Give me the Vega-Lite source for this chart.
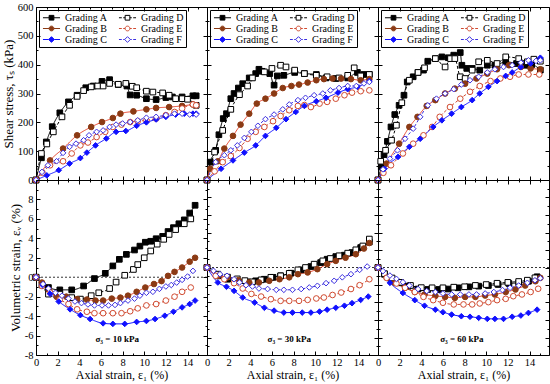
{
"$schema":"https://vega.github.io/schema/vega-lite/v6.json",
"padding":{"left":1,"top":1,"right":4,"bottom":1},
"config":{"view":{"stroke":"black","strokeWidth":1},"font":"Liberation Serif",
"axis":{"domain":false,"grid":false,"tickColor":"black","tickWidth":1,"labelColor":"black","titleColor":"black","labelFont":"Liberation Serif","titleFont":"Liberation Serif","labelFontSize":10.5,"titleFontSize":12,"titleFontWeight":"normal","labelFlush":false,"labelOverlap":false},
"axisX":{"titleFontWeight":"normal"},"axisY":{"titleFontWeight":"normal"},
"legend":{"labelFont":"Liberation Serif"}},
"resolve":{"scale":{"stroke":"independent","fill":"independent","shape":"independent","strokeDash":"independent"},"legend":{"stroke":"independent","fill":"independent","shape":"independent"}},
"datasets":{"d":[
{"p":1,"k":"t","g":"A","x":0,"y":0},{"p":1,"k":"t","g":"A","x":0.5,"y":77},{"p":1,"k":"t","g":"A","x":0.95,"y":132},{"p":1,"k":"t","g":"A","x":1.5,"y":185},{"p":1,"k":"t","g":"A","x":2.2,"y":233},{"p":1,"k":"t","g":"A","x":3,"y":271},{"p":1,"k":"t","g":"A","x":3.8,"y":294},{"p":1,"k":"t","g":"A","x":4.6,"y":320},{"p":1,"k":"t","g":"A","x":5.3,"y":326},{"p":1,"k":"t","g":"A","x":6.1,"y":342},{"p":1,"k":"t","g":"A","x":6.8,"y":348},{"p":1,"k":"t","g":"A","x":7.6,"y":331},{"p":1,"k":"t","g":"A","x":8.4,"y":326},{"p":1,"k":"t","g":"A","x":8.7,"y":295},{"p":1,"k":"t","g":"A","x":9.3,"y":294},{"p":1,"k":"t","g":"A","x":10.2,"y":282},{"p":1,"k":"t","g":"A","x":11.1,"y":279},{"p":1,"k":"t","g":"A","x":12,"y":286},{"p":1,"k":"t","g":"A","x":12.6,"y":288},{"p":1,"k":"t","g":"A","x":13.5,"y":288},{"p":1,"k":"t","g":"A","x":14.5,"y":292},{"p":1,"k":"t","g":"A","x":14.8,"y":292},
{"p":1,"k":"t","g":"D","x":0,"y":0},{"p":1,"k":"t","g":"D","x":0.5,"y":92},{"p":1,"k":"t","g":"D","x":1,"y":125},{"p":1,"k":"t","g":"D","x":1.6,"y":167},{"p":1,"k":"t","g":"D","x":2.4,"y":219},{"p":1,"k":"t","g":"D","x":3.1,"y":259},{"p":1,"k":"t","g":"D","x":3.8,"y":290},{"p":1,"k":"t","g":"D","x":4.4,"y":310},{"p":1,"k":"t","g":"D","x":5.1,"y":323},{"p":1,"k":"t","g":"D","x":5.7,"y":326},{"p":1,"k":"t","g":"D","x":6.2,"y":326},{"p":1,"k":"t","g":"D","x":6.8,"y":335},{"p":1,"k":"t","g":"D","x":7.6,"y":332},{"p":1,"k":"t","g":"D","x":8.3,"y":335},{"p":1,"k":"t","g":"D","x":8.9,"y":325},{"p":1,"k":"t","g":"D","x":9.3,"y":320},{"p":1,"k":"t","g":"D","x":10.2,"y":308},{"p":1,"k":"t","g":"D","x":10.8,"y":305},{"p":1,"k":"t","g":"D","x":11.7,"y":302},{"p":1,"k":"t","g":"D","x":12.3,"y":294},{"p":1,"k":"t","g":"D","x":12.9,"y":282},{"p":1,"k":"t","g":"D","x":13.5,"y":282},{"p":1,"k":"t","g":"D","x":14,"y":280},{"p":1,"k":"t","g":"D","x":14.8,"y":259},
{"p":1,"k":"t","g":"B","x":0,"y":0},{"p":1,"k":"t","g":"B","x":1.3,"y":68},{"p":1,"k":"t","g":"B","x":2.5,"y":109},{"p":1,"k":"t","g":"B","x":3.8,"y":155},{"p":1,"k":"t","g":"B","x":5.1,"y":184},{"p":1,"k":"t","g":"B","x":6.1,"y":201},{"p":1,"k":"t","g":"B","x":7.1,"y":215},{"p":1,"k":"t","g":"B","x":7.8,"y":230},{"p":1,"k":"t","g":"B","x":9,"y":238},{"p":1,"k":"t","g":"B","x":10.2,"y":245},{"p":1,"k":"t","g":"B","x":11.1,"y":250},{"p":1,"k":"t","g":"B","x":12.3,"y":253},{"p":1,"k":"t","g":"B","x":13.5,"y":257},{"p":1,"k":"t","g":"B","x":14.5,"y":262},
{"p":1,"k":"t","g":"E","x":0,"y":0},{"p":1,"k":"t","g":"E","x":0.6,"y":25},{"p":1,"k":"t","g":"E","x":1.3,"y":51},{"p":1,"k":"t","g":"E","x":2.5,"y":65},{"p":1,"k":"t","g":"E","x":3.3,"y":92},{"p":1,"k":"t","g":"E","x":4.1,"y":120},{"p":1,"k":"t","g":"E","x":4.8,"y":130},{"p":1,"k":"t","g":"E","x":5.6,"y":149},{"p":1,"k":"t","g":"E","x":6.4,"y":167},{"p":1,"k":"t","g":"E","x":7.1,"y":184},{"p":1,"k":"t","g":"E","x":7.9,"y":192},{"p":1,"k":"t","g":"E","x":8.7,"y":201},{"p":1,"k":"t","g":"E","x":9.4,"y":204},{"p":1,"k":"t","g":"E","x":10.2,"y":207},{"p":1,"k":"t","g":"E","x":11.1,"y":213},{"p":1,"k":"t","g":"E","x":12,"y":225},{"p":1,"k":"t","g":"E","x":12.8,"y":236},{"p":1,"k":"t","g":"E","x":13.5,"y":248},{"p":1,"k":"t","g":"E","x":14.5,"y":262},{"p":1,"k":"t","g":"E","x":14.8,"y":259},
{"p":1,"k":"t","g":"C","x":0,"y":0},{"p":1,"k":"t","g":"C","x":1,"y":16},{"p":1,"k":"t","g":"C","x":2.1,"y":34},{"p":1,"k":"t","g":"C","x":3.1,"y":57},{"p":1,"k":"t","g":"C","x":4.1,"y":76},{"p":1,"k":"t","g":"C","x":4.7,"y":95},{"p":1,"k":"t","g":"C","x":5.5,"y":120},{"p":1,"k":"t","g":"C","x":6.5,"y":144},{"p":1,"k":"t","g":"C","x":7.4,"y":167},{"p":1,"k":"t","g":"C","x":8.3,"y":170},{"p":1,"k":"t","g":"C","x":9.3,"y":188},{"p":1,"k":"t","g":"C","x":10.2,"y":200},{"p":1,"k":"t","g":"C","x":11.1,"y":210},{"p":1,"k":"t","g":"C","x":12,"y":219},{"p":1,"k":"t","g":"C","x":12.9,"y":227},{"p":1,"k":"t","g":"C","x":13.7,"y":230},{"p":1,"k":"t","g":"C","x":14.5,"y":230},{"p":1,"k":"t","g":"C","x":14.8,"y":230},
{"p":1,"k":"t","g":"F","x":0,"y":0},{"p":1,"k":"t","g":"F","x":0.55,"y":28},{"p":1,"k":"t","g":"F","x":1.1,"y":51},{"p":1,"k":"t","g":"F","x":1.9,"y":65},{"p":1,"k":"t","g":"F","x":2.5,"y":94},{"p":1,"k":"t","g":"F","x":3.1,"y":115},{"p":1,"k":"t","g":"F","x":3.7,"y":126},{"p":1,"k":"t","g":"F","x":4.4,"y":138},{"p":1,"k":"t","g":"F","x":4.9,"y":155},{"p":1,"k":"t","g":"F","x":5.6,"y":167},{"p":1,"k":"t","g":"F","x":6.2,"y":172},{"p":1,"k":"t","g":"F","x":6.8,"y":184},{"p":1,"k":"t","g":"F","x":7.4,"y":192},{"p":1,"k":"t","g":"F","x":8,"y":196},{"p":1,"k":"t","g":"F","x":8.7,"y":201},{"p":1,"k":"t","g":"F","x":9.4,"y":207},{"p":1,"k":"t","g":"F","x":10.2,"y":216},{"p":1,"k":"t","g":"F","x":11.1,"y":219},{"p":1,"k":"t","g":"F","x":12,"y":225},{"p":1,"k":"t","g":"F","x":12.8,"y":230},{"p":1,"k":"t","g":"F","x":13.5,"y":230},{"p":1,"k":"t","g":"F","x":14.2,"y":227},{"p":1,"k":"t","g":"F","x":14.8,"y":227},
{"p":2,"k":"t","g":"A","x":0,"y":0},{"p":2,"k":"t","g":"A","x":0.3,"y":62},{"p":2,"k":"t","g":"A","x":0.8,"y":103},{"p":2,"k":"t","g":"A","x":1.1,"y":157},{"p":2,"k":"t","g":"A","x":1.5,"y":213},{"p":2,"k":"t","g":"A","x":1.8,"y":230},{"p":2,"k":"t","g":"A","x":2.2,"y":282},{"p":2,"k":"t","g":"A","x":2.5,"y":300},{"p":2,"k":"t","g":"A","x":2.9,"y":319},{"p":2,"k":"t","g":"A","x":3.3,"y":334},{"p":2,"k":"t","g":"A","x":3.9,"y":354},{"p":2,"k":"t","g":"A","x":4.5,"y":369},{"p":2,"k":"t","g":"A","x":4.8,"y":384},{"p":2,"k":"t","g":"A","x":5.1,"y":377},{"p":2,"k":"t","g":"A","x":5.8,"y":369},{"p":2,"k":"t","g":"A","x":6.2,"y":329},{"p":2,"k":"t","g":"A","x":6.5,"y":361},{"p":2,"k":"t","g":"A","x":7.1,"y":363},{"p":2,"k":"t","g":"A","x":8.1,"y":373},{"p":2,"k":"t","g":"A","x":9,"y":369},{"p":2,"k":"t","g":"A","x":10.1,"y":366},{"p":2,"k":"t","g":"A","x":11,"y":354},{"p":2,"k":"t","g":"A","x":11.9,"y":352},{"p":2,"k":"t","g":"A","x":13,"y":354},{"p":2,"k":"t","g":"A","x":13.9,"y":373},{"p":2,"k":"t","g":"A","x":14.5,"y":366},{"p":2,"k":"t","g":"A","x":15,"y":366},
{"p":2,"k":"t","g":"D","x":0,"y":0},{"p":2,"k":"t","g":"D","x":0.7,"y":97},{"p":2,"k":"t","g":"D","x":1.45,"y":172},{"p":2,"k":"t","g":"D","x":2.2,"y":245},{"p":2,"k":"t","g":"D","x":3,"y":296},{"p":2,"k":"t","g":"D","x":3.75,"y":326},{"p":2,"k":"t","g":"D","x":4.2,"y":354},{"p":2,"k":"t","g":"D","x":5.3,"y":375},{"p":2,"k":"t","g":"D","x":6,"y":387},{"p":2,"k":"t","g":"D","x":6.8,"y":398},{"p":2,"k":"t","g":"D","x":7.3,"y":392},{"p":2,"k":"t","g":"D","x":8.1,"y":381},{"p":2,"k":"t","g":"D","x":9,"y":369},{"p":2,"k":"t","g":"D","x":10.1,"y":363},{"p":2,"k":"t","g":"D","x":11.1,"y":358},{"p":2,"k":"t","g":"D","x":12.2,"y":354},{"p":2,"k":"t","g":"D","x":13,"y":363},{"p":2,"k":"t","g":"D","x":13.6,"y":389},{"p":2,"k":"t","g":"D","x":14.2,"y":361},{"p":2,"k":"t","g":"D","x":15,"y":366},
{"p":2,"k":"t","g":"B","x":0,"y":0},{"p":2,"k":"t","g":"B","x":0.3,"y":39},{"p":2,"k":"t","g":"B","x":1,"y":65},{"p":2,"k":"t","g":"B","x":1.6,"y":109},{"p":2,"k":"t","g":"B","x":2.4,"y":153},{"p":2,"k":"t","g":"B","x":3.1,"y":192},{"p":2,"k":"t","g":"B","x":3.9,"y":230},{"p":2,"k":"t","g":"B","x":4.6,"y":265},{"p":2,"k":"t","g":"B","x":5.4,"y":282},{"p":2,"k":"t","g":"B","x":6.2,"y":300},{"p":2,"k":"t","g":"B","x":7,"y":319},{"p":2,"k":"t","g":"B","x":7.8,"y":326},{"p":2,"k":"t","g":"B","x":8.5,"y":331},{"p":2,"k":"t","g":"B","x":9.3,"y":338},{"p":2,"k":"t","g":"B","x":10.1,"y":346},{"p":2,"k":"t","g":"B","x":10.8,"y":350},{"p":2,"k":"t","g":"B","x":11.6,"y":352},{"p":2,"k":"t","g":"B","x":12.4,"y":352},{"p":2,"k":"t","g":"B","x":13.3,"y":350},{"p":2,"k":"t","g":"B","x":14.2,"y":346},{"p":2,"k":"t","g":"B","x":15,"y":350},
{"p":2,"k":"t","g":"E","x":0,"y":0},{"p":2,"k":"t","g":"E","x":0.7,"y":30},{"p":2,"k":"t","g":"E","x":1.45,"y":62},{"p":2,"k":"t","g":"E","x":2.2,"y":83},{"p":2,"k":"t","g":"E","x":3,"y":111},{"p":2,"k":"t","g":"E","x":3.75,"y":143},{"p":2,"k":"t","g":"E","x":4.5,"y":167},{"p":2,"k":"t","g":"E","x":5.3,"y":184},{"p":2,"k":"t","g":"E","x":6.1,"y":204},{"p":2,"k":"t","g":"E","x":6.8,"y":222},{"p":2,"k":"t","g":"E","x":7.6,"y":242},{"p":2,"k":"t","g":"E","x":8.4,"y":257},{"p":2,"k":"t","g":"E","x":9,"y":260},{"p":2,"k":"t","g":"E","x":9.6,"y":253},{"p":2,"k":"t","g":"E","x":10.4,"y":265},{"p":2,"k":"t","g":"E","x":11.1,"y":271},{"p":2,"k":"t","g":"E","x":11.9,"y":282},{"p":2,"k":"t","g":"E","x":12.7,"y":294},{"p":2,"k":"t","g":"E","x":13.4,"y":303},{"p":2,"k":"t","g":"E","x":14.2,"y":308},{"p":2,"k":"t","g":"E","x":15,"y":311},
{"p":2,"k":"t","g":"C","x":0,"y":0},{"p":2,"k":"t","g":"C","x":1.3,"y":39},{"p":2,"k":"t","g":"C","x":2.4,"y":68},{"p":2,"k":"t","g":"C","x":3.45,"y":95},{"p":2,"k":"t","g":"C","x":4.5,"y":120},{"p":2,"k":"t","g":"C","x":5.4,"y":153},{"p":2,"k":"t","g":"C","x":6.4,"y":181},{"p":2,"k":"t","g":"C","x":7.3,"y":211},{"p":2,"k":"t","g":"C","x":8.2,"y":236},{"p":2,"k":"t","g":"C","x":9,"y":257},{"p":2,"k":"t","g":"C","x":10.1,"y":273},{"p":2,"k":"t","g":"C","x":11,"y":285},{"p":2,"k":"t","g":"C","x":12.1,"y":303},{"p":2,"k":"t","g":"C","x":13,"y":315},{"p":2,"k":"t","g":"C","x":13.9,"y":323},{"p":2,"k":"t","g":"C","x":15,"y":343},
{"p":2,"k":"t","g":"F","x":0,"y":0},{"p":2,"k":"t","g":"F","x":0.8,"y":62},{"p":2,"k":"t","g":"F","x":1.6,"y":86},{"p":2,"k":"t","g":"F","x":2.2,"y":103},{"p":2,"k":"t","g":"F","x":2.8,"y":120},{"p":2,"k":"t","g":"F","x":3.45,"y":146},{"p":2,"k":"t","g":"F","x":4.1,"y":167},{"p":2,"k":"t","g":"F","x":4.7,"y":188},{"p":2,"k":"t","g":"F","x":5.4,"y":211},{"p":2,"k":"t","g":"F","x":6.2,"y":227},{"p":2,"k":"t","g":"F","x":7,"y":245},{"p":2,"k":"t","g":"F","x":7.6,"y":262},{"p":2,"k":"t","g":"F","x":8.4,"y":277},{"p":2,"k":"t","g":"F","x":9.1,"y":285},{"p":2,"k":"t","g":"F","x":9.9,"y":294},{"p":2,"k":"t","g":"F","x":10.7,"y":300},{"p":2,"k":"t","g":"F","x":11.4,"y":311},{"p":2,"k":"t","g":"F","x":12.2,"y":319},{"p":2,"k":"t","g":"F","x":13,"y":326},{"p":2,"k":"t","g":"F","x":13.8,"y":326},{"p":2,"k":"t","g":"F","x":14.5,"y":335},{"p":2,"k":"t","g":"F","x":15,"y":340},
{"p":3,"k":"t","g":"A","x":0,"y":0},{"p":3,"k":"t","g":"A","x":0.3,"y":45},{"p":3,"k":"t","g":"A","x":0.56,"y":88},{"p":3,"k":"t","g":"A","x":0.87,"y":134},{"p":3,"k":"t","g":"A","x":1.2,"y":184},{"p":3,"k":"t","g":"A","x":1.55,"y":227},{"p":3,"k":"t","g":"A","x":1.95,"y":259},{"p":3,"k":"t","g":"A","x":2.4,"y":294},{"p":3,"k":"t","g":"A","x":2.7,"y":340},{"p":3,"k":"t","g":"A","x":3.25,"y":358},{"p":3,"k":"t","g":"A","x":3.7,"y":373},{"p":3,"k":"t","g":"A","x":4.2,"y":381},{"p":3,"k":"t","g":"A","x":4.6,"y":412},{"p":3,"k":"t","g":"A","x":5.3,"y":421},{"p":3,"k":"t","g":"A","x":5.9,"y":427},{"p":3,"k":"t","g":"A","x":6.5,"y":424},{"p":3,"k":"t","g":"A","x":7,"y":433},{"p":3,"k":"t","g":"A","x":7.6,"y":442},{"p":3,"k":"t","g":"A","x":7.75,"y":398},{"p":3,"k":"t","g":"A","x":8.2,"y":387},{"p":3,"k":"t","g":"A","x":8.7,"y":387},{"p":3,"k":"t","g":"A","x":9.4,"y":381},{"p":3,"k":"t","g":"A","x":10.1,"y":398},{"p":3,"k":"t","g":"A","x":10.8,"y":398},{"p":3,"k":"t","g":"A","x":11.8,"y":410},{"p":3,"k":"t","g":"A","x":12.8,"y":404},{"p":3,"k":"t","g":"A","x":13.6,"y":398},{"p":3,"k":"t","g":"A","x":14.2,"y":400},{"p":3,"k":"t","g":"A","x":15,"y":381},
{"p":3,"k":"t","g":"D","x":0,"y":0},{"p":3,"k":"t","g":"D","x":0.25,"y":65},{"p":3,"k":"t","g":"D","x":0.7,"y":103},{"p":3,"k":"t","g":"D","x":1.25,"y":138},{"p":3,"k":"t","g":"D","x":1.7,"y":190},{"p":3,"k":"t","g":"D","x":2.2,"y":268},{"p":3,"k":"t","g":"D","x":2.9,"y":346},{"p":3,"k":"t","g":"D","x":3.7,"y":373},{"p":3,"k":"t","g":"D","x":4.3,"y":389},{"p":3,"k":"t","g":"D","x":5.3,"y":421},{"p":3,"k":"t","g":"D","x":6.2,"y":392},{"p":3,"k":"t","g":"D","x":6.7,"y":421},{"p":3,"k":"t","g":"D","x":7.1,"y":421},{"p":3,"k":"t","g":"D","x":7.6,"y":358},{"p":3,"k":"t","g":"D","x":8.05,"y":352},{"p":3,"k":"t","g":"D","x":8.7,"y":381},{"p":3,"k":"t","g":"D","x":9.3,"y":410},{"p":3,"k":"t","g":"D","x":10.1,"y":415},{"p":3,"k":"t","g":"D","x":11,"y":404},{"p":3,"k":"t","g":"D","x":11.8,"y":427},{"p":3,"k":"t","g":"D","x":13,"y":421},{"p":3,"k":"t","g":"D","x":13.8,"y":410},{"p":3,"k":"t","g":"D","x":14.4,"y":419},{"p":3,"k":"t","g":"D","x":15,"y":412},
{"p":3,"k":"t","g":"B","x":0,"y":0},{"p":3,"k":"t","g":"B","x":0.8,"y":57},{"p":3,"k":"t","g":"B","x":1.95,"y":126},{"p":3,"k":"t","g":"B","x":2.9,"y":184},{"p":3,"k":"t","g":"B","x":3.65,"y":219},{"p":3,"k":"t","g":"B","x":4.5,"y":257},{"p":3,"k":"t","g":"B","x":5.3,"y":277},{"p":3,"k":"t","g":"B","x":6.2,"y":300},{"p":3,"k":"t","g":"B","x":7.1,"y":317},{"p":3,"k":"t","g":"B","x":8.05,"y":334},{"p":3,"k":"t","g":"B","x":9.1,"y":352},{"p":3,"k":"t","g":"B","x":10.1,"y":369},{"p":3,"k":"t","g":"B","x":11,"y":384},{"p":3,"k":"t","g":"B","x":12.1,"y":398},{"p":3,"k":"t","g":"B","x":13.2,"y":392},{"p":3,"k":"t","g":"B","x":14.1,"y":387},{"p":3,"k":"t","g":"B","x":15,"y":384},
{"p":3,"k":"t","g":"E","x":0,"y":0},{"p":3,"k":"t","g":"E","x":0.5,"y":25},{"p":3,"k":"t","g":"E","x":1.2,"y":51},{"p":3,"k":"t","g":"E","x":2.3,"y":92},{"p":3,"k":"t","g":"E","x":3.25,"y":126},{"p":3,"k":"t","g":"E","x":4.2,"y":155},{"p":3,"k":"t","g":"E","x":5,"y":184},{"p":3,"k":"t","g":"E","x":5.7,"y":219},{"p":3,"k":"t","g":"E","x":6.65,"y":253},{"p":3,"k":"t","g":"E","x":7.6,"y":282},{"p":3,"k":"t","g":"E","x":8.5,"y":306},{"p":3,"k":"t","g":"E","x":9.4,"y":326},{"p":3,"k":"t","g":"E","x":10.4,"y":343},{"p":3,"k":"t","g":"E","x":11.3,"y":352},{"p":3,"k":"t","g":"E","x":12.2,"y":358},{"p":3,"k":"t","g":"E","x":13,"y":366},{"p":3,"k":"t","g":"E","x":13.9,"y":366},{"p":3,"k":"t","g":"E","x":14.9,"y":366},
{"p":3,"k":"t","g":"C","x":0,"y":0},{"p":3,"k":"t","g":"C","x":0.6,"y":39},{"p":3,"k":"t","g":"C","x":1.85,"y":80},{"p":3,"k":"t","g":"C","x":2.9,"y":115},{"p":3,"k":"t","g":"C","x":3.9,"y":143},{"p":3,"k":"t","g":"C","x":5.1,"y":184},{"p":3,"k":"t","g":"C","x":5.9,"y":207},{"p":3,"k":"t","g":"C","x":6.8,"y":230},{"p":3,"k":"t","g":"C","x":7.7,"y":253},{"p":3,"k":"t","g":"C","x":8.7,"y":277},{"p":3,"k":"t","g":"C","x":9.4,"y":300},{"p":3,"k":"t","g":"C","x":10.2,"y":323},{"p":3,"k":"t","g":"C","x":11,"y":343},{"p":3,"k":"t","g":"C","x":11.8,"y":361},{"p":3,"k":"t","g":"C","x":12.4,"y":373},{"p":3,"k":"t","g":"C","x":13.2,"y":392},{"p":3,"k":"t","g":"C","x":14.1,"y":404},{"p":3,"k":"t","g":"C","x":15,"y":424},
{"p":3,"k":"t","g":"F","x":0,"y":0},{"p":3,"k":"t","g":"F","x":0.46,"y":37},{"p":3,"k":"t","g":"F","x":1.1,"y":74},{"p":3,"k":"t","g":"F","x":1.8,"y":103},{"p":3,"k":"t","g":"F","x":2.5,"y":143},{"p":3,"k":"t","g":"F","x":3.25,"y":178},{"p":3,"k":"t","g":"F","x":3.9,"y":219},{"p":3,"k":"t","g":"F","x":4.6,"y":259},{"p":3,"k":"t","g":"F","x":5.4,"y":282},{"p":3,"k":"t","g":"F","x":6.2,"y":300},{"p":3,"k":"t","g":"F","x":7,"y":315},{"p":3,"k":"t","g":"F","x":7.7,"y":331},{"p":3,"k":"t","g":"F","x":8.5,"y":346},{"p":3,"k":"t","g":"F","x":9.3,"y":358},{"p":3,"k":"t","g":"F","x":10.1,"y":373},{"p":3,"k":"t","g":"F","x":10.8,"y":384},{"p":3,"k":"t","g":"F","x":11.6,"y":392},{"p":3,"k":"t","g":"F","x":12.4,"y":398},{"p":3,"k":"t","g":"F","x":13.2,"y":407},{"p":3,"k":"t","g":"F","x":13.9,"y":415},{"p":3,"k":"t","g":"F","x":14.6,"y":413},{"p":3,"k":"t","g":"F","x":15,"y":415},
{"p":1,"k":"v","g":"A","x":0,"y":0},{"p":1,"k":"v","g":"A","x":1.15,"y":-1.06},{"p":1,"k":"v","g":"A","x":2.2,"y":-1.3},{"p":1,"k":"v","g":"A","x":3.3,"y":-1.3},{"p":1,"k":"v","g":"A","x":4.4,"y":-0.9},{"p":1,"k":"v","g":"A","x":5.4,"y":-0.14},{"p":1,"k":"v","g":"A","x":6.4,"y":0.4},{"p":1,"k":"v","g":"A","x":7.1,"y":1.16},{"p":1,"k":"v","g":"A","x":7.7,"y":1.84},{"p":1,"k":"v","g":"A","x":8.35,"y":2.35},{"p":1,"k":"v","g":"A","x":9.1,"y":2.8},{"p":1,"k":"v","g":"A","x":9.6,"y":3.2},{"p":1,"k":"v","g":"A","x":10.1,"y":3.6},{"p":1,"k":"v","g":"A","x":10.6,"y":3.7},{"p":1,"k":"v","g":"A","x":11.1,"y":3.96},{"p":1,"k":"v","g":"A","x":11.7,"y":4.2},{"p":1,"k":"v","g":"A","x":12.2,"y":4.7},{"p":1,"k":"v","g":"A","x":12.7,"y":5.1},{"p":1,"k":"v","g":"A","x":13.2,"y":5.5},{"p":1,"k":"v","g":"A","x":13.7,"y":5.9},{"p":1,"k":"v","g":"A","x":14.2,"y":6.6},{"p":1,"k":"v","g":"A","x":14.7,"y":7.4},
{"p":1,"k":"v","g":"D","x":0,"y":0},{"p":1,"k":"v","g":"D","x":0.55,"y":-0.8},{"p":1,"k":"v","g":"D","x":1.15,"y":-1.74},{"p":1,"k":"v","g":"D","x":2.2,"y":-1.74},{"p":1,"k":"v","g":"D","x":3.3,"y":-2.1},{"p":1,"k":"v","g":"D","x":4.1,"y":-2.25},{"p":1,"k":"v","g":"D","x":5.1,"y":-1.9},{"p":1,"k":"v","g":"D","x":5.8,"y":-1.6},{"p":1,"k":"v","g":"D","x":6.8,"y":-1.16},{"p":1,"k":"v","g":"D","x":7.4,"y":-0.5},{"p":1,"k":"v","g":"D","x":8.2,"y":0.2},{"p":1,"k":"v","g":"D","x":9,"y":0.8},{"p":1,"k":"v","g":"D","x":9.4,"y":1.3},{"p":1,"k":"v","g":"D","x":10,"y":2},{"p":1,"k":"v","g":"D","x":10.6,"y":2.7},{"p":1,"k":"v","g":"D","x":11.2,"y":3.4},{"p":1,"k":"v","g":"D","x":11.8,"y":3.9},{"p":1,"k":"v","g":"D","x":12.3,"y":4.4},{"p":1,"k":"v","g":"D","x":12.9,"y":4.9},{"p":1,"k":"v","g":"D","x":13.7,"y":5.5},{"p":1,"k":"v","g":"D","x":14.3,"y":6},
{"p":1,"k":"v","g":"B","x":0,"y":0},{"p":1,"k":"v","g":"B","x":0.55,"y":-0.55},{"p":1,"k":"v","g":"B","x":1.2,"y":-1.3},{"p":1,"k":"v","g":"B","x":1.9,"y":-2},{"p":1,"k":"v","g":"B","x":2.8,"y":-2},{"p":1,"k":"v","g":"B","x":3.8,"y":-2.25},{"p":1,"k":"v","g":"B","x":4.7,"y":-2.3},{"p":1,"k":"v","g":"B","x":5.5,"y":-2.4},{"p":1,"k":"v","g":"B","x":6.2,"y":-2.4},{"p":1,"k":"v","g":"B","x":7,"y":-2.2},{"p":1,"k":"v","g":"B","x":7.8,"y":-2.1},{"p":1,"k":"v","g":"B","x":8.5,"y":-1.9},{"p":1,"k":"v","g":"B","x":9.3,"y":-1.5},{"p":1,"k":"v","g":"B","x":10.1,"y":-1.06},{"p":1,"k":"v","g":"B","x":10.9,"y":-0.7},{"p":1,"k":"v","g":"B","x":11.6,"y":-0.4},{"p":1,"k":"v","g":"B","x":12.2,"y":0.14},{"p":1,"k":"v","g":"B","x":12.8,"y":0.55},{"p":1,"k":"v","g":"B","x":13.5,"y":1},{"p":1,"k":"v","g":"B","x":14.2,"y":1.6},{"p":1,"k":"v","g":"B","x":14.7,"y":2},
{"p":1,"k":"v","g":"E","x":0,"y":0},{"p":1,"k":"v","g":"E","x":0.55,"y":-0.9},{"p":1,"k":"v","g":"E","x":1.3,"y":-1.57},{"p":1,"k":"v","g":"E","x":2.2,"y":-2.3},{"p":1,"k":"v","g":"E","x":3,"y":-2.76},{"p":1,"k":"v","g":"E","x":3.8,"y":-3.3},{"p":1,"k":"v","g":"E","x":4.7,"y":-3.55},{"p":1,"k":"v","g":"E","x":5.4,"y":-3.7},{"p":1,"k":"v","g":"E","x":6.2,"y":-3.7},{"p":1,"k":"v","g":"E","x":7.1,"y":-3.7},{"p":1,"k":"v","g":"E","x":7.9,"y":-3.7},{"p":1,"k":"v","g":"E","x":8.7,"y":-3.5},{"p":1,"k":"v","g":"E","x":9.4,"y":-3.2},{"p":1,"k":"v","g":"E","x":10.2,"y":-2.9},{"p":1,"k":"v","g":"E","x":11.1,"y":-2.76},{"p":1,"k":"v","g":"E","x":12,"y":-2.4},{"p":1,"k":"v","g":"E","x":12.8,"y":-2},{"p":1,"k":"v","g":"E","x":13.5,"y":-1.5},{"p":1,"k":"v","g":"E","x":14.3,"y":-1.06},
{"p":1,"k":"v","g":"C","x":0,"y":0},{"p":1,"k":"v","g":"C","x":0.6,"y":-0.8},{"p":1,"k":"v","g":"C","x":1.3,"y":-1.7},{"p":1,"k":"v","g":"C","x":2.1,"y":-2.5},{"p":1,"k":"v","g":"C","x":3.15,"y":-3.3},{"p":1,"k":"v","g":"C","x":4.1,"y":-3.9},{"p":1,"k":"v","g":"C","x":5,"y":-4.3},{"p":1,"k":"v","g":"C","x":6.2,"y":-4.74},{"p":1,"k":"v","g":"C","x":7.1,"y":-4.8},{"p":1,"k":"v","g":"C","x":8.2,"y":-4.8},{"p":1,"k":"v","g":"C","x":9.3,"y":-4.6},{"p":1,"k":"v","g":"C","x":10.2,"y":-4.5},{"p":1,"k":"v","g":"C","x":11,"y":-4.3},{"p":1,"k":"v","g":"C","x":11.9,"y":-3.96},{"p":1,"k":"v","g":"C","x":12.7,"y":-3.55},{"p":1,"k":"v","g":"C","x":13.5,"y":-3.1},{"p":1,"k":"v","g":"C","x":14.2,"y":-2.76},{"p":1,"k":"v","g":"C","x":14.7,"y":-2.4},
{"p":1,"k":"v","g":"F","x":0,"y":0},{"p":1,"k":"v","g":"F","x":0.65,"y":-0.7},{"p":1,"k":"v","g":"F","x":1.15,"y":-1.16},{"p":1,"k":"v","g":"F","x":1.8,"y":-1.6},{"p":1,"k":"v","g":"F","x":2.4,"y":-1.9},{"p":1,"k":"v","g":"F","x":3,"y":-2.2},{"p":1,"k":"v","g":"F","x":3.6,"y":-2.5},{"p":1,"k":"v","g":"F","x":4.2,"y":-2.66},{"p":1,"k":"v","g":"F","x":4.8,"y":-2.8},{"p":1,"k":"v","g":"F","x":5.4,"y":-2.9},{"p":1,"k":"v","g":"F","x":6.1,"y":-2.9},{"p":1,"k":"v","g":"F","x":6.7,"y":-2.9},{"p":1,"k":"v","g":"F","x":7.3,"y":-2.85},{"p":1,"k":"v","g":"F","x":7.8,"y":-2.66},{"p":1,"k":"v","g":"F","x":8.5,"y":-2.4},{"p":1,"k":"v","g":"F","x":9.1,"y":-2.2},{"p":1,"k":"v","g":"F","x":9.6,"y":-1.9},{"p":1,"k":"v","g":"F","x":10.2,"y":-1.6},{"p":1,"k":"v","g":"F","x":10.8,"y":-1.5},{"p":1,"k":"v","g":"F","x":11.4,"y":-1.2},{"p":1,"k":"v","g":"F","x":12,"y":-0.95},{"p":1,"k":"v","g":"F","x":12.5,"y":-0.8},{"p":1,"k":"v","g":"F","x":13,"y":-0.55},{"p":1,"k":"v","g":"F","x":13.5,"y":-0.27},{"p":1,"k":"v","g":"F","x":14,"y":0.07},{"p":1,"k":"v","g":"F","x":14.5,"y":0.65},
{"p":2,"k":"v","g":"A","x":0,"y":0},{"p":2,"k":"v","g":"A","x":1,"y":-0.96},{"p":2,"k":"v","g":"A","x":1.9,"y":-1.34},{"p":2,"k":"v","g":"A","x":2.8,"y":-1.52},{"p":2,"k":"v","g":"A","x":3.75,"y":-1.64},{"p":2,"k":"v","g":"A","x":4.5,"y":-1.52},{"p":2,"k":"v","g":"A","x":5.3,"y":-1.34},{"p":2,"k":"v","g":"A","x":6.1,"y":-1.12},{"p":2,"k":"v","g":"A","x":6.8,"y":-0.95},{"p":2,"k":"v","g":"A","x":7.75,"y":-0.65},{"p":2,"k":"v","g":"A","x":8.7,"y":-0.27},{"p":2,"k":"v","g":"A","x":9.6,"y":0.11},{"p":2,"k":"v","g":"A","x":10.5,"y":0.56},{"p":2,"k":"v","g":"A","x":11.1,"y":0.95},{"p":2,"k":"v","g":"A","x":11.9,"y":1.25},{"p":2,"k":"v","g":"A","x":12.7,"y":1.41},{"p":2,"k":"v","g":"A","x":13.4,"y":1.71},{"p":2,"k":"v","g":"A","x":14.2,"y":2.28},{"p":2,"k":"v","g":"A","x":15,"y":2.91},
{"p":2,"k":"v","g":"D","x":0,"y":0},{"p":2,"k":"v","g":"D","x":1,"y":-0.76},{"p":2,"k":"v","g":"D","x":1.9,"y":-1.1},{"p":2,"k":"v","g":"D","x":2.8,"y":-1.3},{"p":2,"k":"v","g":"D","x":3.5,"y":-1.5},{"p":2,"k":"v","g":"D","x":4.2,"y":-1.64},{"p":2,"k":"v","g":"D","x":5,"y":-1.41},{"p":2,"k":"v","g":"D","x":5.9,"y":-1.12},{"p":2,"k":"v","g":"D","x":6.8,"y":-0.95},{"p":2,"k":"v","g":"D","x":7.6,"y":-0.67},{"p":2,"k":"v","g":"D","x":8.4,"y":-0.27},{"p":2,"k":"v","g":"D","x":9.1,"y":0},{"p":2,"k":"v","g":"D","x":9.9,"y":0.38},{"p":2,"k":"v","g":"D","x":10.7,"y":0.76},{"p":2,"k":"v","g":"D","x":11.4,"y":1.03},{"p":2,"k":"v","g":"D","x":12.2,"y":1.34},{"p":2,"k":"v","g":"D","x":13,"y":1.64},{"p":2,"k":"v","g":"D","x":13.75,"y":2.02},{"p":2,"k":"v","g":"D","x":14.4,"y":2.46},{"p":2,"k":"v","g":"D","x":15,"y":3.25},
{"p":2,"k":"v","g":"B","x":0,"y":0},{"p":2,"k":"v","g":"B","x":1,"y":-0.96},{"p":2,"k":"v","g":"B","x":1.9,"y":-1.12},{"p":2,"k":"v","g":"B","x":2.9,"y":-1.45},{"p":2,"k":"v","g":"B","x":3.9,"y":-1.71},{"p":2,"k":"v","g":"B","x":4.8,"y":-1.71},{"p":2,"k":"v","g":"B","x":5.75,"y":-1.52},{"p":2,"k":"v","g":"B","x":6.7,"y":-1.34},{"p":2,"k":"v","g":"B","x":7.6,"y":-1.12},{"p":2,"k":"v","g":"B","x":8.4,"y":-0.76},{"p":2,"k":"v","g":"B","x":9.3,"y":-0.56},{"p":2,"k":"v","g":"B","x":10.2,"y":-0.19},{"p":2,"k":"v","g":"B","x":11.1,"y":0.38},{"p":2,"k":"v","g":"B","x":11.9,"y":0.76},{"p":2,"k":"v","g":"B","x":12.8,"y":1.12},{"p":2,"k":"v","g":"B","x":13.75,"y":1.52},{"p":2,"k":"v","g":"B","x":14.5,"y":2.17},{"p":2,"k":"v","g":"B","x":15,"y":2.8},
{"p":2,"k":"v","g":"E","x":0,"y":0},{"p":2,"k":"v","g":"E","x":0.8,"y":-0.95},{"p":2,"k":"v","g":"E","x":1.6,"y":-1.34},{"p":2,"k":"v","g":"E","x":2.5,"y":-1.79},{"p":2,"k":"v","g":"E","x":3.3,"y":-2.4},{"p":2,"k":"v","g":"E","x":4.1,"y":-3.02},{"p":2,"k":"v","g":"E","x":5,"y":-3.32},{"p":2,"k":"v","g":"E","x":5.9,"y":-3.62},{"p":2,"k":"v","g":"E","x":6.8,"y":-3.81},{"p":2,"k":"v","g":"E","x":7.6,"y":-3.81},{"p":2,"k":"v","g":"E","x":8.5,"y":-3.81},{"p":2,"k":"v","g":"E","x":9.3,"y":-3.7},{"p":2,"k":"v","g":"E","x":10.1,"y":-3.54},{"p":2,"k":"v","g":"E","x":10.8,"y":-3.43},{"p":2,"k":"v","g":"E","x":11.6,"y":-3.14},{"p":2,"k":"v","g":"E","x":12.4,"y":-2.86},{"p":2,"k":"v","g":"E","x":13.3,"y":-2.46},{"p":2,"k":"v","g":"E","x":14.1,"y":-2.02},{"p":2,"k":"v","g":"E","x":15,"y":-1.34},
{"p":2,"k":"v","g":"C","x":0,"y":0},{"p":2,"k":"v","g":"C","x":1,"y":-1.71},{"p":2,"k":"v","g":"C","x":1.8,"y":-2.2},{"p":2,"k":"v","g":"C","x":2.5,"y":-2.67},{"p":2,"k":"v","g":"C","x":3.3,"y":-3.43},{"p":2,"k":"v","g":"C","x":4.4,"y":-4},{"p":2,"k":"v","g":"C","x":5.3,"y":-4.6},{"p":2,"k":"v","g":"C","x":6.2,"y":-4.93},{"p":2,"k":"v","g":"C","x":7.1,"y":-5.15},{"p":2,"k":"v","g":"C","x":7.9,"y":-5.15},{"p":2,"k":"v","g":"C","x":8.8,"y":-5.15},{"p":2,"k":"v","g":"C","x":9.6,"y":-5.15},{"p":2,"k":"v","g":"C","x":10.4,"y":-5.04},{"p":2,"k":"v","g":"C","x":11.1,"y":-4.82},{"p":2,"k":"v","g":"C","x":11.9,"y":-4.6},{"p":2,"k":"v","g":"C","x":12.7,"y":-4.37},{"p":2,"k":"v","g":"C","x":13.4,"y":-4.08},{"p":2,"k":"v","g":"C","x":14.2,"y":-3.7},{"p":2,"k":"v","g":"C","x":14.9,"y":-3.32},
{"p":2,"k":"v","g":"F","x":0,"y":0},{"p":2,"k":"v","g":"F","x":0.6,"y":-0.38},{"p":2,"k":"v","g":"F","x":1.2,"y":-0.76},{"p":2,"k":"v","g":"F","x":1.85,"y":-0.95},{"p":2,"k":"v","g":"F","x":2.5,"y":-1.34},{"p":2,"k":"v","g":"F","x":3,"y":-1.71},{"p":2,"k":"v","g":"F","x":3.6,"y":-2.02},{"p":2,"k":"v","g":"F","x":4.2,"y":-2.17},{"p":2,"k":"v","g":"F","x":4.8,"y":-2.4},{"p":2,"k":"v","g":"F","x":5.6,"y":-2.46},{"p":2,"k":"v","g":"F","x":6.4,"y":-2.55},{"p":2,"k":"v","g":"F","x":7.1,"y":-2.55},{"p":2,"k":"v","g":"F","x":7.9,"y":-2.55},{"p":2,"k":"v","g":"F","x":8.7,"y":-2.46},{"p":2,"k":"v","g":"F","x":9.45,"y":-2.28},{"p":2,"k":"v","g":"F","x":10.2,"y":-2.09},{"p":2,"k":"v","g":"F","x":11,"y":-1.79},{"p":2,"k":"v","g":"F","x":11.75,"y":-1.52},{"p":2,"k":"v","g":"F","x":12.5,"y":-1.12},{"p":2,"k":"v","g":"F","x":13.3,"y":-0.76},{"p":2,"k":"v","g":"F","x":14.1,"y":-0.27},{"p":2,"k":"v","g":"F","x":14.8,"y":0.11},
{"p":3,"k":"v","g":"A","x":0,"y":0},{"p":3,"k":"v","g":"A","x":0.6,"y":-0.78},{"p":3,"k":"v","g":"A","x":1.2,"y":-1.3},{"p":3,"k":"v","g":"A","x":2,"y":-1.75},{"p":3,"k":"v","g":"A","x":2.8,"y":-2.13},{"p":3,"k":"v","g":"A","x":3.7,"y":-2.46},{"p":3,"k":"v","g":"A","x":4.6,"y":-2.51},{"p":3,"k":"v","g":"A","x":5.6,"y":-2.51},{"p":3,"k":"v","g":"A","x":6.5,"y":-2.46},{"p":3,"k":"v","g":"A","x":7.4,"y":-2.32},{"p":3,"k":"v","g":"A","x":8.4,"y":-2.21},{"p":3,"k":"v","g":"A","x":9.3,"y":-2.13},{"p":3,"k":"v","g":"A","x":10.2,"y":-2.06},{"p":3,"k":"v","g":"A","x":11.1,"y":-1.94},{"p":3,"k":"v","g":"A","x":12.1,"y":-1.83},{"p":3,"k":"v","g":"A","x":13,"y":-1.75},{"p":3,"k":"v","g":"A","x":13.9,"y":-1.57},{"p":3,"k":"v","g":"A","x":14.7,"y":-1.06},
{"p":3,"k":"v","g":"D","x":0,"y":0},{"p":3,"k":"v","g":"D","x":0.6,"y":-0.7},{"p":3,"k":"v","g":"D","x":1.3,"y":-1.2},{"p":3,"k":"v","g":"D","x":2.1,"y":-1.7},{"p":3,"k":"v","g":"D","x":3,"y":-2.05},{"p":3,"k":"v","g":"D","x":4,"y":-2.3},{"p":3,"k":"v","g":"D","x":5,"y":-2.32},{"p":3,"k":"v","g":"D","x":6,"y":-2.32},{"p":3,"k":"v","g":"D","x":7,"y":-2.25},{"p":3,"k":"v","g":"D","x":8,"y":-2.2},{"p":3,"k":"v","g":"D","x":9,"y":-2.05},{"p":3,"k":"v","g":"D","x":10,"y":-1.95},{"p":3,"k":"v","g":"D","x":11,"y":-1.8},{"p":3,"k":"v","g":"D","x":12,"y":-1.7},{"p":3,"k":"v","g":"D","x":13,"y":-1.6},{"p":3,"k":"v","g":"D","x":13.8,"y":-1.45},{"p":3,"k":"v","g":"D","x":14.5,"y":-1.18},
{"p":3,"k":"v","g":"B","x":0,"y":0},{"p":3,"k":"v","g":"B","x":0.8,"y":-1.18},{"p":3,"k":"v","g":"B","x":1.55,"y":-1.75},{"p":3,"k":"v","g":"B","x":2.5,"y":-2.32},{"p":3,"k":"v","g":"B","x":3.4,"y":-2.8},{"p":3,"k":"v","g":"B","x":4.3,"y":-3.08},{"p":3,"k":"v","g":"B","x":5.3,"y":-3.25},{"p":3,"k":"v","g":"B","x":6.2,"y":-3.36},{"p":3,"k":"v","g":"B","x":7.1,"y":-3.47},{"p":3,"k":"v","g":"B","x":8.05,"y":-3.36},{"p":3,"k":"v","g":"B","x":9,"y":-3.36},{"p":3,"k":"v","g":"B","x":9.9,"y":-3.2},{"p":3,"k":"v","g":"B","x":10.8,"y":-3.08},{"p":3,"k":"v","g":"B","x":11.8,"y":-2.8},{"p":3,"k":"v","g":"B","x":12.7,"y":-2.51},{"p":3,"k":"v","g":"B","x":13.6,"y":-2.06},{"p":3,"k":"v","g":"B","x":14.55,"y":-1.57},{"p":3,"k":"v","g":"B","x":15,"y":-1.18},
{"p":3,"k":"v","g":"E","x":0,"y":0},{"p":3,"k":"v","g":"E","x":0.8,"y":-1.18},{"p":3,"k":"v","g":"E","x":1.7,"y":-1.83},{"p":3,"k":"v","g":"E","x":2.5,"y":-2.32},{"p":3,"k":"v","g":"E","x":3.4,"y":-2.8},{"p":3,"k":"v","g":"E","x":4.2,"y":-3.36},{"p":3,"k":"v","g":"E","x":5.1,"y":-3.73},{"p":3,"k":"v","g":"E","x":6,"y":-4.03},{"p":3,"k":"v","g":"E","x":7,"y":-4.22},{"p":3,"k":"v","g":"E","x":7.9,"y":-4.22},{"p":3,"k":"v","g":"E","x":8.7,"y":-4.22},{"p":3,"k":"v","g":"E","x":9.4,"y":-4.11},{"p":3,"k":"v","g":"E","x":10.2,"y":-3.96},{"p":3,"k":"v","g":"E","x":11,"y":-3.73},{"p":3,"k":"v","g":"E","x":11.8,"y":-3.58},{"p":3,"k":"v","g":"E","x":12.5,"y":-3.28},{"p":3,"k":"v","g":"E","x":13.3,"y":-3.08},{"p":3,"k":"v","g":"E","x":14.1,"y":-2.8},{"p":3,"k":"v","g":"E","x":14.8,"y":-2.43},
{"p":3,"k":"v","g":"C","x":0,"y":0},{"p":3,"k":"v","g":"C","x":1.1,"y":-1.75},{"p":3,"k":"v","g":"C","x":2.3,"y":-2.91},{"p":3,"k":"v","g":"C","x":3.4,"y":-3.73},{"p":3,"k":"v","g":"C","x":4.3,"y":-4.37},{"p":3,"k":"v","g":"C","x":5.3,"y":-4.82},{"p":3,"k":"v","g":"C","x":6,"y":-5.11},{"p":3,"k":"v","g":"C","x":6.8,"y":-5.38},{"p":3,"k":"v","g":"C","x":7.7,"y":-5.57},{"p":3,"k":"v","g":"C","x":8.5,"y":-5.63},{"p":3,"k":"v","g":"C","x":9.3,"y":-5.75},{"p":3,"k":"v","g":"C","x":10.1,"y":-5.87},{"p":3,"k":"v","g":"C","x":10.8,"y":-5.87},{"p":3,"k":"v","g":"C","x":11.6,"y":-5.87},{"p":3,"k":"v","g":"C","x":12.4,"y":-5.63},{"p":3,"k":"v","g":"C","x":13.2,"y":-5.49},{"p":3,"k":"v","g":"C","x":13.9,"y":-5.19},{"p":3,"k":"v","g":"C","x":14.7,"y":-4.82},
{"p":3,"k":"v","g":"F","x":0,"y":0},{"p":3,"k":"v","g":"F","x":0.46,"y":-0.41},{"p":3,"k":"v","g":"F","x":1.1,"y":-0.92},{"p":3,"k":"v","g":"F","x":1.7,"y":-1.3},{"p":3,"k":"v","g":"F","x":2.3,"y":-1.68},{"p":3,"k":"v","g":"F","x":2.9,"y":-2.06},{"p":3,"k":"v","g":"F","x":3.7,"y":-2.46},{"p":3,"k":"v","g":"F","x":4.5,"y":-2.69},{"p":3,"k":"v","g":"F","x":5.3,"y":-2.8},{"p":3,"k":"v","g":"F","x":6,"y":-2.97},{"p":3,"k":"v","g":"F","x":6.8,"y":-3.08},{"p":3,"k":"v","g":"F","x":7.6,"y":-3.08},{"p":3,"k":"v","g":"F","x":8.4,"y":-3.08},{"p":3,"k":"v","g":"F","x":9.1,"y":-3.08},{"p":3,"k":"v","g":"F","x":9.9,"y":-2.97},{"p":3,"k":"v","g":"F","x":10.7,"y":-2.8},{"p":3,"k":"v","g":"F","x":11.5,"y":-2.58},{"p":3,"k":"v","g":"F","x":12.2,"y":-2.32},{"p":3,"k":"v","g":"F","x":13,"y":-2.06},{"p":3,"k":"v","g":"F","x":13.8,"y":-1.75},{"p":3,"k":"v","g":"F","x":14.5,"y":-1.46},{"p":3,"k":"v","g":"F","x":15,"y":-1.23}
]},
"columns":3,"spacing":0,"bounds":"flush",
"concat":[
{"width":171,"height":173,"data":{"name":"d"},"transform":[{"filter":"datum.p == 1 && datum.k == 't'"}],
"layer":[
{"mark":{"type":"line","interpolate":"monotone","strokeWidth":1},"encoding":{
"x":{"field":"x","type":"quantitative","scale":{"domain":[0,15.8],"nice":false},"axis":{"orient":"bottom","values":[0,1,2,3,4,5,6,7,8,9,10,11,12,13,14,15],"tickSize":{"condition":{"test":"datum.value % 2 === 0","value":-4},"value":-2},"labels":false,"title":null}},
"y":{"field":"y","type":"quantitative","scale":{"domain":[0,600],"nice":false},"axis":{"orient":"left","values":[0,50,100,150,200,250,300,350,400,450,500,550,600],"tickSize":{"condition":{"test":"datum.value % 100 === 0","value":-4},"value":-2},"labelExpr":"datum.value % 100 === 0 ? datum.label : ''","labelPadding":7,"title":"Shear stress, τₛ (kPa)","titleFontSize":13,"titleFontWeight":"normal","titlePadding":2}},
"stroke":{"field":"g","type":"nominal","scale":{"domain":["A","B","C","D","E","F"],"range":["#000000","#e8422a","#1010ff","#000000","#d04a30","#3b2fe0"]},"legend":null},
"strokeDash":{"field":"g","type":"nominal","scale":{"domain":["A","B","C","D","E","F"],"range":[[1,0],[1,0],[1,0],[3,2],[3,2],[3,2]]},"legend":null}}},
{"mark":{"type":"point","opacity":1,"size":32,"strokeWidth":1},"encoding":{
"x":{"field":"x","type":"quantitative","scale":{"domain":[0,15.8],"nice":false},"axis":{"orient":"top","values":[0,1,2,3,4,5,6,7,8,9,10,11,12,13,14,15],"tickSize":{"condition":{"test":"datum.value % 2 === 0","value":-4},"value":-2},"labels":false,"title":null}},
"y":{"field":"y","type":"quantitative","scale":{"domain":[0,600],"nice":false},"axis":{"orient":"right","values":[0,50,100,150,200,250,300,350,400,450,500,550,600],"tickSize":{"condition":{"test":"datum.value % 100 === 0","value":-4},"value":-2},"labels":false,"title":null}},
"shape":{"field":"g","type":"nominal","scale":{"domain":["A","B","C","D","E","F"],"range":["square","circle","diamond","square","circle","diamond"]},"legend":null},
"stroke":{"field":"g","type":"nominal","scale":{"domain":["A","B","C","D","E","F"],"range":["#000000","#8b3a14","#1010ff","#000000","#d04a30","#3b2fe0"]},"legend":null},
"fill":{"field":"g","type":"nominal","scale":{"domain":["A","B","C","D","E","F"],"range":["#000000","#8b3a14","#1010ff","#ffffff","#ffffff","#ffffff"]},"legend":null}}},
{"transform":[{"filter":"false"}],"mark":{"type":"point","opacity":1,"strokeWidth":1},"encoding":{
"shape":{"field":"g","type":"nominal","scale":{"domain":["A","B","C","D","E","F"],"range":["M-1.8,0H-0.5M0.5,0H1.8M-0.5,-0.5H0.5V0.5H-0.5Z","M-1.8,0H-0.5M0.5,0H1.8M-0.5,0A0.5,0.5,0,1,1,0.5,0A0.5,0.5,0,1,1,-0.5,0Z","M-1.8,0H-0.6M0.6,0H1.8M0,-0.6L0.6,0L0,0.6L-0.6,0Z","M-1.8,0H-1.2M-0.9,0H-0.5M0.5,0H0.9M1.2,0H1.8M-0.5,-0.5H0.5V0.5H-0.5Z","M-1.8,0H-1.2M-0.9,0H-0.5M0.5,0H0.9M1.2,0H1.8M-0.5,0A0.5,0.5,0,1,1,0.5,0A0.5,0.5,0,1,1,-0.5,0Z","M-1.8,0H-1.2M-0.9,0H-0.6M0.6,0H0.9M1.2,0H1.8M0,-0.6L0.6,0L0,0.6L-0.6,0Z"]},"legend":{"title":null,"orient":"top-left","columns":2,"offset":3,"padding":2,"strokeColor":"black","symbolSize":90,"symbolStrokeWidth":1,"symbolOffset":5,"labelOffset":8,"labelFontSize":10,"labelColor":"black","columnPadding":8,"rowPadding":0,"labelExpr":"'Grading ' + datum.label"}},
"stroke":{"field":"g","type":"nominal","scale":{"domain":["A","B","C","D","E","F"],"range":["#000000","#8b3a14","#1010ff","#000000","#d04a30","#3b2fe0"]},"legend":{"title":null,"orient":"top-left","columns":2,"offset":3,"padding":2,"strokeColor":"black","symbolSize":90,"symbolStrokeWidth":1,"symbolOffset":5,"labelOffset":8,"labelFontSize":10,"labelColor":"black","columnPadding":8,"rowPadding":0,"labelExpr":"'Grading ' + datum.label"}},
"fill":{"field":"g","type":"nominal","scale":{"domain":["A","B","C","D","E","F"],"range":["#000000","#8b3a14","#1010ff","#ffffff","#ffffff","#ffffff"]},"legend":{"title":null,"orient":"top-left","columns":2,"offset":3,"padding":2,"strokeColor":"black","symbolSize":90,"symbolStrokeWidth":1,"symbolOffset":5,"labelOffset":8,"labelFontSize":10,"labelColor":"black","columnPadding":8,"rowPadding":0,"labelExpr":"'Grading ' + datum.label"}}}}
],
"resolve":{"scale":{"stroke":"independent","fill":"independent","shape":"independent","strokeDash":"independent"},"axis":{"x":"independent","y":"independent"},"legend":{"stroke":"independent","fill":"independent","shape":"independent"}}},
{"width":171,"height":173,"data":{"name":"d"},"transform":[{"filter":"datum.p == 2 && datum.k == 't'"}],
"layer":[
{"mark":{"type":"line","interpolate":"monotone","strokeWidth":1},"encoding":{
"x":{"field":"x","type":"quantitative","scale":{"domain":[0,15.8],"nice":false},"axis":{"orient":"bottom","values":[0,1,2,3,4,5,6,7,8,9,10,11,12,13,14,15],"tickSize":{"condition":{"test":"datum.value % 2 === 0","value":-4},"value":-2},"labels":false,"title":null}},
"y":{"field":"y","type":"quantitative","scale":{"domain":[0,600],"nice":false},"axis":{"orient":"left","values":[0,50,100,150,200,250,300,350,400,450,500,550,600],"tickSize":{"condition":{"test":"datum.value % 100 === 0","value":-4},"value":-2},"labels":false,"title":null}},
"stroke":{"field":"g","type":"nominal","scale":{"domain":["A","B","C","D","E","F"],"range":["#000000","#e8422a","#1010ff","#000000","#d04a30","#3b2fe0"]},"legend":null},
"strokeDash":{"field":"g","type":"nominal","scale":{"domain":["A","B","C","D","E","F"],"range":[[1,0],[1,0],[1,0],[3,2],[3,2],[3,2]]},"legend":null}}},
{"mark":{"type":"point","opacity":1,"size":32,"strokeWidth":1},"encoding":{
"x":{"field":"x","type":"quantitative","scale":{"domain":[0,15.8],"nice":false},"axis":{"orient":"top","values":[0,1,2,3,4,5,6,7,8,9,10,11,12,13,14,15],"tickSize":{"condition":{"test":"datum.value % 2 === 0","value":-4},"value":-2},"labels":false,"title":null}},
"y":{"field":"y","type":"quantitative","scale":{"domain":[0,600],"nice":false},"axis":{"orient":"right","values":[0,50,100,150,200,250,300,350,400,450,500,550,600],"tickSize":{"condition":{"test":"datum.value % 100 === 0","value":-4},"value":-2},"labels":false,"title":null}},
"shape":{"field":"g","type":"nominal","scale":{"domain":["A","B","C","D","E","F"],"range":["square","circle","diamond","square","circle","diamond"]},"legend":null},
"stroke":{"field":"g","type":"nominal","scale":{"domain":["A","B","C","D","E","F"],"range":["#000000","#8b3a14","#1010ff","#000000","#d04a30","#3b2fe0"]},"legend":null},
"fill":{"field":"g","type":"nominal","scale":{"domain":["A","B","C","D","E","F"],"range":["#000000","#8b3a14","#1010ff","#ffffff","#ffffff","#ffffff"]},"legend":null}}},
{"transform":[{"filter":"false"}],"mark":{"type":"point","opacity":1,"strokeWidth":1},"encoding":{
"shape":{"field":"g","type":"nominal","scale":{"domain":["A","B","C","D","E","F"],"range":["M-1.8,0H-0.5M0.5,0H1.8M-0.5,-0.5H0.5V0.5H-0.5Z","M-1.8,0H-0.5M0.5,0H1.8M-0.5,0A0.5,0.5,0,1,1,0.5,0A0.5,0.5,0,1,1,-0.5,0Z","M-1.8,0H-0.6M0.6,0H1.8M0,-0.6L0.6,0L0,0.6L-0.6,0Z","M-1.8,0H-1.2M-0.9,0H-0.5M0.5,0H0.9M1.2,0H1.8M-0.5,-0.5H0.5V0.5H-0.5Z","M-1.8,0H-1.2M-0.9,0H-0.5M0.5,0H0.9M1.2,0H1.8M-0.5,0A0.5,0.5,0,1,1,0.5,0A0.5,0.5,0,1,1,-0.5,0Z","M-1.8,0H-1.2M-0.9,0H-0.6M0.6,0H0.9M1.2,0H1.8M0,-0.6L0.6,0L0,0.6L-0.6,0Z"]},"legend":{"title":null,"orient":"top-left","columns":2,"offset":3,"padding":2,"strokeColor":"black","symbolSize":90,"symbolStrokeWidth":1,"symbolOffset":5,"labelOffset":8,"labelFontSize":10,"labelColor":"black","columnPadding":8,"rowPadding":0,"labelExpr":"'Grading ' + datum.label"}},
"stroke":{"field":"g","type":"nominal","scale":{"domain":["A","B","C","D","E","F"],"range":["#000000","#8b3a14","#1010ff","#000000","#d04a30","#3b2fe0"]},"legend":{"title":null,"orient":"top-left","columns":2,"offset":3,"padding":2,"strokeColor":"black","symbolSize":90,"symbolStrokeWidth":1,"symbolOffset":5,"labelOffset":8,"labelFontSize":10,"labelColor":"black","columnPadding":8,"rowPadding":0,"labelExpr":"'Grading ' + datum.label"}},
"fill":{"field":"g","type":"nominal","scale":{"domain":["A","B","C","D","E","F"],"range":["#000000","#8b3a14","#1010ff","#ffffff","#ffffff","#ffffff"]},"legend":{"title":null,"orient":"top-left","columns":2,"offset":3,"padding":2,"strokeColor":"black","symbolSize":90,"symbolStrokeWidth":1,"symbolOffset":5,"labelOffset":8,"labelFontSize":10,"labelColor":"black","columnPadding":8,"rowPadding":0,"labelExpr":"'Grading ' + datum.label"}}}}
],
"resolve":{"scale":{"stroke":"independent","fill":"independent","shape":"independent","strokeDash":"independent"},"axis":{"x":"independent","y":"independent"},"legend":{"stroke":"independent","fill":"independent","shape":"independent"}}},
{"width":171,"height":173,"data":{"name":"d"},"transform":[{"filter":"datum.p == 3 && datum.k == 't'"}],
"layer":[
{"mark":{"type":"line","interpolate":"monotone","strokeWidth":1},"encoding":{
"x":{"field":"x","type":"quantitative","scale":{"domain":[0,15.8],"nice":false},"axis":{"orient":"bottom","values":[0,1,2,3,4,5,6,7,8,9,10,11,12,13,14,15],"tickSize":{"condition":{"test":"datum.value % 2 === 0","value":-4},"value":-2},"labels":false,"title":null}},
"y":{"field":"y","type":"quantitative","scale":{"domain":[0,600],"nice":false},"axis":{"orient":"left","values":[0,50,100,150,200,250,300,350,400,450,500,550,600],"tickSize":{"condition":{"test":"datum.value % 100 === 0","value":-4},"value":-2},"labels":false,"title":null}},
"stroke":{"field":"g","type":"nominal","scale":{"domain":["A","B","C","D","E","F"],"range":["#000000","#e8422a","#1010ff","#000000","#d04a30","#3b2fe0"]},"legend":null},
"strokeDash":{"field":"g","type":"nominal","scale":{"domain":["A","B","C","D","E","F"],"range":[[1,0],[1,0],[1,0],[3,2],[3,2],[3,2]]},"legend":null}}},
{"mark":{"type":"point","opacity":1,"size":32,"strokeWidth":1},"encoding":{
"x":{"field":"x","type":"quantitative","scale":{"domain":[0,15.8],"nice":false},"axis":{"orient":"top","values":[0,1,2,3,4,5,6,7,8,9,10,11,12,13,14,15],"tickSize":{"condition":{"test":"datum.value % 2 === 0","value":-4},"value":-2},"labels":false,"title":null}},
"y":{"field":"y","type":"quantitative","scale":{"domain":[0,600],"nice":false},"axis":{"orient":"right","values":[0,50,100,150,200,250,300,350,400,450,500,550,600],"tickSize":{"condition":{"test":"datum.value % 100 === 0","value":-4},"value":-2},"labels":false,"title":null}},
"shape":{"field":"g","type":"nominal","scale":{"domain":["A","B","C","D","E","F"],"range":["square","circle","diamond","square","circle","diamond"]},"legend":null},
"stroke":{"field":"g","type":"nominal","scale":{"domain":["A","B","C","D","E","F"],"range":["#000000","#8b3a14","#1010ff","#000000","#d04a30","#3b2fe0"]},"legend":null},
"fill":{"field":"g","type":"nominal","scale":{"domain":["A","B","C","D","E","F"],"range":["#000000","#8b3a14","#1010ff","#ffffff","#ffffff","#ffffff"]},"legend":null}}},
{"transform":[{"filter":"false"}],"mark":{"type":"point","opacity":1,"strokeWidth":1},"encoding":{
"shape":{"field":"g","type":"nominal","scale":{"domain":["A","B","C","D","E","F"],"range":["M-1.8,0H-0.5M0.5,0H1.8M-0.5,-0.5H0.5V0.5H-0.5Z","M-1.8,0H-0.5M0.5,0H1.8M-0.5,0A0.5,0.5,0,1,1,0.5,0A0.5,0.5,0,1,1,-0.5,0Z","M-1.8,0H-0.6M0.6,0H1.8M0,-0.6L0.6,0L0,0.6L-0.6,0Z","M-1.8,0H-1.2M-0.9,0H-0.5M0.5,0H0.9M1.2,0H1.8M-0.5,-0.5H0.5V0.5H-0.5Z","M-1.8,0H-1.2M-0.9,0H-0.5M0.5,0H0.9M1.2,0H1.8M-0.5,0A0.5,0.5,0,1,1,0.5,0A0.5,0.5,0,1,1,-0.5,0Z","M-1.8,0H-1.2M-0.9,0H-0.6M0.6,0H0.9M1.2,0H1.8M0,-0.6L0.6,0L0,0.6L-0.6,0Z"]},"legend":{"title":null,"orient":"top-left","columns":2,"offset":3,"padding":2,"strokeColor":"black","symbolSize":90,"symbolStrokeWidth":1,"symbolOffset":5,"labelOffset":8,"labelFontSize":10,"labelColor":"black","columnPadding":8,"rowPadding":0,"labelExpr":"'Grading ' + datum.label"}},
"stroke":{"field":"g","type":"nominal","scale":{"domain":["A","B","C","D","E","F"],"range":["#000000","#8b3a14","#1010ff","#000000","#d04a30","#3b2fe0"]},"legend":{"title":null,"orient":"top-left","columns":2,"offset":3,"padding":2,"strokeColor":"black","symbolSize":90,"symbolStrokeWidth":1,"symbolOffset":5,"labelOffset":8,"labelFontSize":10,"labelColor":"black","columnPadding":8,"rowPadding":0,"labelExpr":"'Grading ' + datum.label"}},
"fill":{"field":"g","type":"nominal","scale":{"domain":["A","B","C","D","E","F"],"range":["#000000","#8b3a14","#1010ff","#ffffff","#ffffff","#ffffff"]},"legend":{"title":null,"orient":"top-left","columns":2,"offset":3,"padding":2,"strokeColor":"black","symbolSize":90,"symbolStrokeWidth":1,"symbolOffset":5,"labelOffset":8,"labelFontSize":10,"labelColor":"black","columnPadding":8,"rowPadding":0,"labelExpr":"'Grading ' + datum.label"}}}}
],
"resolve":{"scale":{"stroke":"independent","fill":"independent","shape":"independent","strokeDash":"independent"},"axis":{"x":"independent","y":"independent"},"legend":{"stroke":"independent","fill":"independent","shape":"independent"}}},
{"width":171,"height":175,"data":{"name":"d"},"transform":[{"filter":"datum.p == 1 && datum.k == 'v'"}],
"layer":[
{"data":{"values":[{}]},"mark":{"type":"rule","strokeDash":[2,2],"color":"black","strokeWidth":0.8},"encoding":{"y":{"datum":0,"type":"quantitative","scale":{"domain":[-8,10],"nice":false},"axis":null}}},
{"mark":{"type":"line","interpolate":"monotone","strokeWidth":1},"encoding":{
"x":{"field":"x","type":"quantitative","scale":{"domain":[0,15.8],"nice":false},"axis":{"orient":"bottom","values":[0,1,2,3,4,5,6,7,8,9,10,11,12,13,14,15],"tickSize":{"condition":{"test":"datum.value % 2 === 0","value":-4},"value":-2},"labelExpr":"datum.value % 2 === 0 ? datum.label : ''","labelPadding":6,"title":"Axial strain, ε₁ (%)","titleFontWeight":"normal","titlePadding":0}},
"y":{"field":"y","type":"quantitative","scale":{"domain":[-8,10],"nice":false},"axis":{"orient":"left","values":[-8,-7,-6,-5,-4,-3,-2,-1,0,1,2,3,4,5,6,7,8,9,10],"tickSize":{"condition":{"test":"datum.value % 2 === 0","value":-4},"value":-2},"labelExpr":"datum.value % 2 === 0 && datum.value < 10 ? replace(datum.label, '−', '-') : ''","labelPadding":7,"title":"Volumetric strain, εᵥ (%)","titleFontSize":13,"titleFontWeight":"normal","titlePadding":2}},
"stroke":{"field":"g","type":"nominal","scale":{"domain":["A","B","C","D","E","F"],"range":["#000000","#e8422a","#1010ff","#000000","#d04a30","#3b2fe0"]},"legend":null},
"strokeDash":{"field":"g","type":"nominal","scale":{"domain":["A","B","C","D","E","F"],"range":[[1,0],[1,0],[1,0],[3,2],[3,2],[3,2]]},"legend":null}}},
{"mark":{"type":"point","opacity":1,"size":32,"strokeWidth":1},"encoding":{
"x":{"field":"x","type":"quantitative","scale":{"domain":[0,15.8],"nice":false},"axis":{"orient":"top","values":[0,1,2,3,4,5,6,7,8,9,10,11,12,13,14,15],"tickSize":{"condition":{"test":"datum.value % 2 === 0","value":-4},"value":-2},"labels":false,"title":null}},
"y":{"field":"y","type":"quantitative","scale":{"domain":[-8,10],"nice":false},"axis":{"orient":"right","values":[-8,-7,-6,-5,-4,-3,-2,-1,0,1,2,3,4,5,6,7,8,9,10],"tickSize":{"condition":{"test":"datum.value % 2 === 0","value":-4},"value":-2},"labels":false,"title":null}},
"shape":{"field":"g","type":"nominal","scale":{"domain":["A","B","C","D","E","F"],"range":["square","circle","diamond","square","circle","diamond"]},"legend":null},
"stroke":{"field":"g","type":"nominal","scale":{"domain":["A","B","C","D","E","F"],"range":["#000000","#8b3a14","#1010ff","#000000","#d04a30","#3b2fe0"]},"legend":null},
"fill":{"field":"g","type":"nominal","scale":{"domain":["A","B","C","D","E","F"],"range":["#000000","#8b3a14","#1010ff","#ffffff","#ffffff","#ffffff"]},"legend":null}}},
{"data":{"values":[{}]},"mark":{"type":"text","fontWeight":"bold","fontSize":9,"font":"Liberation Serif","color":"black"},"encoding":{"x":{"datum":7.5,"type":"quantitative","scale":{"domain":[0,15.8],"nice":false},"axis":null},"y":{"datum":-6.4,"type":"quantitative","scale":{"domain":[-8,10],"nice":false},"axis":null},"text":{"value":"σ₃ = 10 kPa"}}}
],
"resolve":{"scale":{"stroke":"independent","fill":"independent","shape":"independent","strokeDash":"independent"},"axis":{"x":"independent","y":"independent"}}},
{"width":171,"height":175,"data":{"name":"d"},"transform":[{"filter":"datum.p == 2 && datum.k == 'v'"}],
"layer":[
{"data":{"values":[{}]},"mark":{"type":"rule","strokeDash":[2,2],"color":"black","strokeWidth":0.8},"encoding":{"y":{"datum":0,"type":"quantitative","scale":{"domain":[-10,10],"nice":false},"axis":null}}},
{"mark":{"type":"line","interpolate":"monotone","strokeWidth":1},"encoding":{
"x":{"field":"x","type":"quantitative","scale":{"domain":[0,15.8],"nice":false},"axis":{"orient":"bottom","values":[0,1,2,3,4,5,6,7,8,9,10,11,12,13,14,15],"tickSize":{"condition":{"test":"datum.value % 2 === 0","value":-4},"value":-2},"labelExpr":"datum.value % 2 === 0 ? datum.label : ''","labelPadding":6,"title":"Axial strain, ε₁ (%)","titleFontWeight":"normal","titlePadding":0}},
"y":{"field":"y","type":"quantitative","scale":{"domain":[-10,10],"nice":false},"axis":{"orient":"left","values":[-10,-9,-8,-7,-6,-5,-4,-3,-2,-1,0,1,2,3,4,5,6,7,8,9,10],"tickSize":{"condition":{"test":"datum.value % 2 === 0","value":-4},"value":-2},"labels":false,"title":null}},
"stroke":{"field":"g","type":"nominal","scale":{"domain":["A","B","C","D","E","F"],"range":["#000000","#e8422a","#1010ff","#000000","#d04a30","#3b2fe0"]},"legend":null},
"strokeDash":{"field":"g","type":"nominal","scale":{"domain":["A","B","C","D","E","F"],"range":[[1,0],[1,0],[1,0],[3,2],[3,2],[3,2]]},"legend":null}}},
{"mark":{"type":"point","opacity":1,"size":32,"strokeWidth":1},"encoding":{
"x":{"field":"x","type":"quantitative","scale":{"domain":[0,15.8],"nice":false},"axis":{"orient":"top","values":[0,1,2,3,4,5,6,7,8,9,10,11,12,13,14,15],"tickSize":{"condition":{"test":"datum.value % 2 === 0","value":-4},"value":-2},"labels":false,"title":null}},
"y":{"field":"y","type":"quantitative","scale":{"domain":[-10,10],"nice":false},"axis":{"orient":"right","values":[-10,-9,-8,-7,-6,-5,-4,-3,-2,-1,0,1,2,3,4,5,6,7,8,9,10],"tickSize":{"condition":{"test":"datum.value % 2 === 0","value":-4},"value":-2},"labels":false,"title":null}},
"shape":{"field":"g","type":"nominal","scale":{"domain":["A","B","C","D","E","F"],"range":["square","circle","diamond","square","circle","diamond"]},"legend":null},
"stroke":{"field":"g","type":"nominal","scale":{"domain":["A","B","C","D","E","F"],"range":["#000000","#8b3a14","#1010ff","#000000","#d04a30","#3b2fe0"]},"legend":null},
"fill":{"field":"g","type":"nominal","scale":{"domain":["A","B","C","D","E","F"],"range":["#000000","#8b3a14","#1010ff","#ffffff","#ffffff","#ffffff"]},"legend":null}}},
{"data":{"values":[{}]},"mark":{"type":"text","fontWeight":"bold","fontSize":9,"font":"Liberation Serif","color":"black"},"encoding":{"x":{"datum":7.6,"type":"quantitative","scale":{"domain":[0,15.8],"nice":false},"axis":null},"y":{"datum":-8.2,"type":"quantitative","scale":{"domain":[-10,10],"nice":false},"axis":null},"text":{"value":"σ₃ = 30 kPa"}}}
],
"resolve":{"scale":{"stroke":"independent","fill":"independent","shape":"independent","strokeDash":"independent"},"axis":{"x":"independent","y":"independent"}}},
{"width":171,"height":175,"data":{"name":"d"},"transform":[{"filter":"datum.p == 3 && datum.k == 'v'"}],
"layer":[
{"data":{"values":[{}]},"mark":{"type":"rule","strokeDash":[2,2],"color":"black","strokeWidth":0.8},"encoding":{"y":{"datum":0,"type":"quantitative","scale":{"domain":[-10,10],"nice":false},"axis":null}}},
{"mark":{"type":"line","interpolate":"monotone","strokeWidth":1},"encoding":{
"x":{"field":"x","type":"quantitative","scale":{"domain":[0,15.8],"nice":false},"axis":{"orient":"bottom","values":[0,1,2,3,4,5,6,7,8,9,10,11,12,13,14,15],"tickSize":{"condition":{"test":"datum.value % 2 === 0","value":-4},"value":-2},"labelExpr":"datum.value % 2 === 0 ? datum.label : ''","labelPadding":6,"title":"Axial strain, ε₁ (%)","titleFontWeight":"normal","titlePadding":0}},
"y":{"field":"y","type":"quantitative","scale":{"domain":[-10,10],"nice":false},"axis":{"orient":"left","values":[-10,-9,-8,-7,-6,-5,-4,-3,-2,-1,0,1,2,3,4,5,6,7,8,9,10],"tickSize":{"condition":{"test":"datum.value % 2 === 0","value":-4},"value":-2},"labels":false,"title":null}},
"stroke":{"field":"g","type":"nominal","scale":{"domain":["A","B","C","D","E","F"],"range":["#000000","#e8422a","#1010ff","#000000","#d04a30","#3b2fe0"]},"legend":null},
"strokeDash":{"field":"g","type":"nominal","scale":{"domain":["A","B","C","D","E","F"],"range":[[1,0],[1,0],[1,0],[3,2],[3,2],[3,2]]},"legend":null}}},
{"mark":{"type":"point","opacity":1,"size":32,"strokeWidth":1},"encoding":{
"x":{"field":"x","type":"quantitative","scale":{"domain":[0,15.8],"nice":false},"axis":{"orient":"top","values":[0,1,2,3,4,5,6,7,8,9,10,11,12,13,14,15],"tickSize":{"condition":{"test":"datum.value % 2 === 0","value":-4},"value":-2},"labels":false,"title":null}},
"y":{"field":"y","type":"quantitative","scale":{"domain":[-10,10],"nice":false},"axis":{"orient":"right","values":[-10,-9,-8,-7,-6,-5,-4,-3,-2,-1,0,1,2,3,4,5,6,7,8,9,10],"tickSize":{"condition":{"test":"datum.value % 2 === 0","value":-4},"value":-2},"labels":false,"title":null}},
"shape":{"field":"g","type":"nominal","scale":{"domain":["A","B","C","D","E","F"],"range":["square","circle","diamond","square","circle","diamond"]},"legend":null},
"stroke":{"field":"g","type":"nominal","scale":{"domain":["A","B","C","D","E","F"],"range":["#000000","#8b3a14","#1010ff","#000000","#d04a30","#3b2fe0"]},"legend":null},
"fill":{"field":"g","type":"nominal","scale":{"domain":["A","B","C","D","E","F"],"range":["#000000","#8b3a14","#1010ff","#ffffff","#ffffff","#ffffff"]},"legend":null}}},
{"data":{"values":[{}]},"mark":{"type":"text","fontWeight":"bold","fontSize":9,"font":"Liberation Serif","color":"black"},"encoding":{"x":{"datum":7.75,"type":"quantitative","scale":{"domain":[0,15.8],"nice":false},"axis":null},"y":{"datum":-8.2,"type":"quantitative","scale":{"domain":[-10,10],"nice":false},"axis":null},"text":{"value":"σ₃ = 60 kPa"}}}
],
"resolve":{"scale":{"stroke":"independent","fill":"independent","shape":"independent","strokeDash":"independent"},"axis":{"x":"independent","y":"independent"}}}
]
}
